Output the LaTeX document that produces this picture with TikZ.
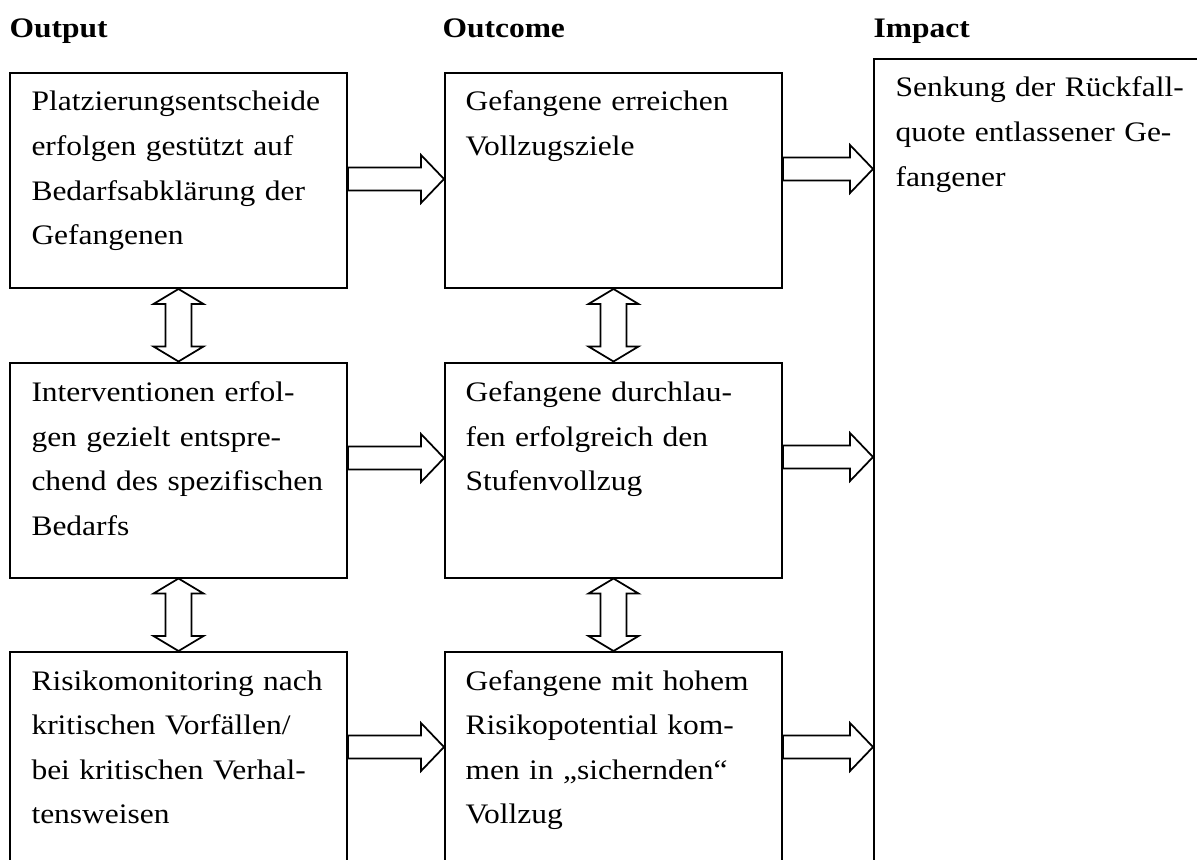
\documentclass[tikz,border=0pt]{standalone}
\usepackage{fontspec}
\setmainfont[FakeStretch=1.115]{Liberation Serif}
\usetikzlibrary{positioning,calc}

\tikzset{
  box/.style={draw, line width=0.8pt, minimum width=134.8pt, minimum height=86pt, inner sep=0pt},
  boxtext/.style={anchor=base west, inner sep=0pt, text width=130pt, align=left,
    font=\fontsize{11.3}{17.8}\selectfont},
  head/.style={anchor=base west, inner sep=0pt, font=\fontsize{11.3}{12}\selectfont\bfseries},
  harrow/.style={line width=0.7pt, to path={let \p1=(\tikztostart), \p2=(\tikztotarget) in
    (\x1,\y1+4.6pt) -- (\x2-9.2pt,\y1+4.6pt) -- (\x2-9.2pt,\y1+9.6pt) -- (\x2,\y2)
    -- (\x2-9.2pt,\y1-9.6pt) -- (\x2-9.2pt,\y1-4.6pt) -- (\x1,\y1-4.6pt) -- cycle}},
  varrow/.style={line width=0.7pt, to path={let \p1=(\tikztostart), \p2=(\tikztotarget) in
    (\x1,\y1) -- (\x1+10pt,\y1-6pt) -- (\x1+5.2pt,\y1-6pt) -- (\x1+5.2pt,\y2+6pt)
    -- (\x1+10pt,\y2+6pt) -- (\x2,\y2) -- (\x1-10pt,\y2+6pt) -- (\x1-5.2pt,\y2+6pt)
    -- (\x1-5.2pt,\y1-6pt) -- (\x1-10pt,\y1-6pt) -- cycle}}
}

\begin{document}
\begin{tikzpicture}[x=0.4pt, y=-0.4pt, node distance=29pt and 38.4pt]
\useasboundingbox (0,0) rectangle (1197,859);
\clip (0,0) rectangle (1197,859);

% column titles
\node [head] (hout) at (9,38) {Output};
\node [head] (hoc) at (442,38) {Outcome};
\node [head] (himp) at (873,38) {Impact};

% boxes
\node [box, anchor=north west] (p1) at (9,72) {};
\node [box, below=of p1] (p2) {};
\node [box, below=of p2] (p3) {};
\node [box, right=of p1] (c1) {};
\node [box, right=of p2] (c2) {};
\node [box, right=of p3] (c3) {};
\node [box, anchor=north west, minimum height=340pt] (impact) at (873,58) {};

% texts
\node [boxtext] (tp1) at ($(p1.north west)+(22,39)$) {Platzierungsentscheide\\ erfolgen gestützt auf\\ Bedarfsabklärung der\\ Gefangenen};
\node [boxtext] (tp2) at ($(p2.north west)+(22,40)$) {Interventionen erfol-\\ gen gezielt entspre-\\ chend des spezifischen\\ Bedarfs};
\node [boxtext] (tp3) at ($(p3.north west)+(22,39)$) {Risikomonitoring nach\\ kritischen Vorfällen/\\ bei kritischen Verhal-\\ tensweisen};
\node [boxtext] (tc1) at ($(c1.north west)+(21,39)$) {Gefangene erreichen\\ Vollzugsziele};
\node [boxtext] (tc2) at ($(c2.north west)+(21,40)$) {Gefangene durchlau-\\ fen erfolgreich den\\ Stufenvollzug};
\node [boxtext] (tc3) at ($(c3.north west)+(21,39)$) {Gefangene mit hohem\\ Risikopotential kom-\\ men in „sichernden“\\ Vollzug};
\node [boxtext] (timp) at ($(impact.north west)+(22,39)$) {Senkung der Rückfall-\\ quote entlassener Ge-\\ fangener};

% block arrows
\draw[harrow] ($(p1.east)+(0,-1.5)$) to ($(c1.west)+(0,-1.5)$);
\draw[harrow] ($(p2.east)+(0,-12)$) to ($(c2.west)+(0,-12)$);
\draw[harrow] ($(p3.east)+(0,-12.5)$) to ($(c3.west)+(0,-12.5)$);
\draw[harrow] ($(c1.east)+(0,-11.5)$) to ($(c1.east -| impact.west)+(0,-11.5)$);
\draw[harrow] ($(c2.east)+(0,-13)$) to ($(c2.east -| impact.west)+(0,-13)$);
\draw[harrow] ($(c3.east)+(0,-12.5)$) to ($(c3.east -| impact.west)+(0,-12.5)$);
\draw[varrow] (p1.south) to (p2.north);
\draw[varrow] (p2.south) to (p3.north);
\draw[varrow] (c1.south) to (c2.north);
\draw[varrow] (c2.south) to (c3.north);
\end{tikzpicture}
\end{document}
